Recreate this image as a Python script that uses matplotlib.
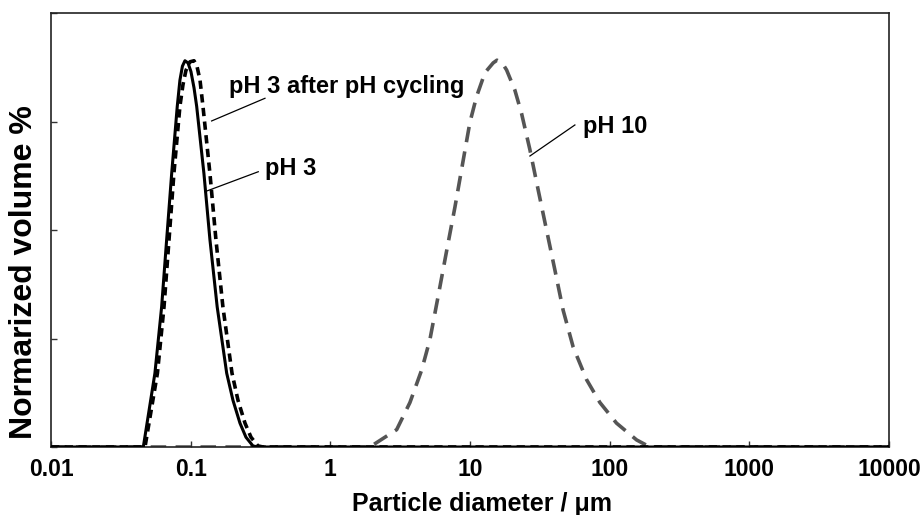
import numpy as np
import matplotlib
matplotlib.use("Agg")
import matplotlib.pyplot as plt

plt.rcParams['font.family'] = ['Liberation Sans', 'DejaVu Sans']
plt.rcParams['font.weight'] = 'bold'

# Data: log10(diameter / um) and normalized volume
ph3_logd = [-2.0, -1.339, -1.256, -1.208, -1.172, -1.136, -1.096, -1.077, -1.059, -1.041,
            -1.019, -0.998, -0.976, -0.957, -0.905, -0.862, -0.810, -0.742, -0.697, -0.647,
            -0.604, -0.554, -0.518, 4.0]
ph3_vol = [0.0, 0.0, 0.68, 1.29, 1.91, 2.52, 3.14, 3.38, 3.51, 3.56,
           3.54, 3.46, 3.31, 3.14, 2.52, 1.91, 1.29, 0.68, 0.43, 0.22,
           0.09, 0.01, 0.0, 0.0]

cyc_logd = [-2.0, -1.327, -1.238, -1.191, -1.155, -1.120, -1.077, -1.055, -1.034, -1.005,
            -0.976, -0.955, -0.933, -0.912, -0.862, -0.819, -0.769, -0.704, -0.661, -0.611,
            -0.568, -0.518, -0.482, 4.0]
cyc_vol = [0.0, 0.0, 0.68, 1.29, 1.91, 2.52, 3.14, 3.34, 3.47, 3.55,
           3.56, 3.51, 3.38, 3.14, 2.52, 1.91, 1.29, 0.68, 0.43, 0.22,
           0.09, 0.01, 0.0, 0.0]

ph10_logd = [-2.0, 0.283, 0.475, 0.570, 0.654, 0.713, 0.772, 0.833, 0.892, 0.951, 0.999,
             1.047, 1.107, 1.166, 1.193, 1.230, 1.262, 1.321, 1.369, 1.429, 1.488, 1.548,
             1.608, 1.667, 1.739, 1.835, 1.930, 2.049, 2.193, 2.288, 4.0]
ph10_vol = [0.0, 0.0, 0.16, 0.41, 0.71, 0.99, 1.39, 1.81, 2.21, 2.64, 2.99,
            3.23, 3.45, 3.54, 3.565, 3.54, 3.475, 3.29, 3.075, 2.74, 2.37, 2.0,
            1.63, 1.26, 0.92, 0.62, 0.41, 0.22, 0.065, 0.0, 0.0]

xticks = [0.01, 0.1, 1, 10, 100, 1000, 10000]
xticklabels = ['0.01', '0.1', '1', '10', '100', '1000', '10000']

fig = plt.figure(figsize=(9.22, 5.15), dpi=100)
ax = fig.add_axes([51/922, 1-447/515, 838/922, 434/515])

ax.plot(10**np.array(ph10_logd), ph10_vol, color='#555555', lw=2.6,
        ls=(0, (4.3, 2.6)), zorder=2)
ax.plot(10**np.array(ph3_logd), ph3_vol, color='black', lw=2.2, zorder=3)
ax.plot(10**np.array(cyc_logd), cyc_vol, color='black', lw=2.6,
        ls=(0, (2.3, 1.5)), zorder=3)

ax.set_xscale('log')
ax.set_xlim(0.01, 10000)
ax.set_ylim(0, 4)
ax.set_xticks(xticks)
ax.set_xticklabels(xticklabels)
ax.xaxis.set_minor_locator(matplotlib.ticker.NullLocator())
ax.set_yticks([0, 1, 2, 3, 4])
ax.set_yticklabels([])
ax.tick_params(axis='both', direction='in', length=4, width=1, color='#333333')
ax.tick_params(axis='x', labelsize=16.5, pad=8)
for lab in ax.get_xticklabels():
    lab.set_fontweight('bold')
for sp in ax.spines.values():
    sp.set_linewidth(1.2)
    sp.set_color('#222222')

# annotations with leader lines
ax.plot([10**-0.850, 10**-0.468], [3.005, 3.214], color='black', lw=0.9)
ax.plot([10**-0.898, 10**-0.516], [2.353, 2.537], color='black', lw=0.9)
ax.plot([10**1.429, 10**1.751], [2.682, 2.968], color='black', lw=0.9)
ax.text(10**-0.726, 3.263, 'pH 3 after pH cycling', fontsize=17, fontweight='bold',
        ha='left', va='baseline')
ax.text(10**-0.468, 2.507, 'pH 3', fontsize=17, fontweight='bold', ha='left', va='baseline')
ax.text(10**1.808, 2.894, 'pH 10', fontsize=17, fontweight='bold', ha='left', va='baseline')

fig.text(482/922, 1-504/515, 'Particle diameter / \u03bcm', fontsize=18, fontweight='bold',
         ha='center', va='center')
fig.text(24/922, 1-272/515, 'Normarized volume %', fontsize=23, fontweight='bold',
         rotation=90, ha='center', va='center')

fig.savefig('out.png', dpi=100)
